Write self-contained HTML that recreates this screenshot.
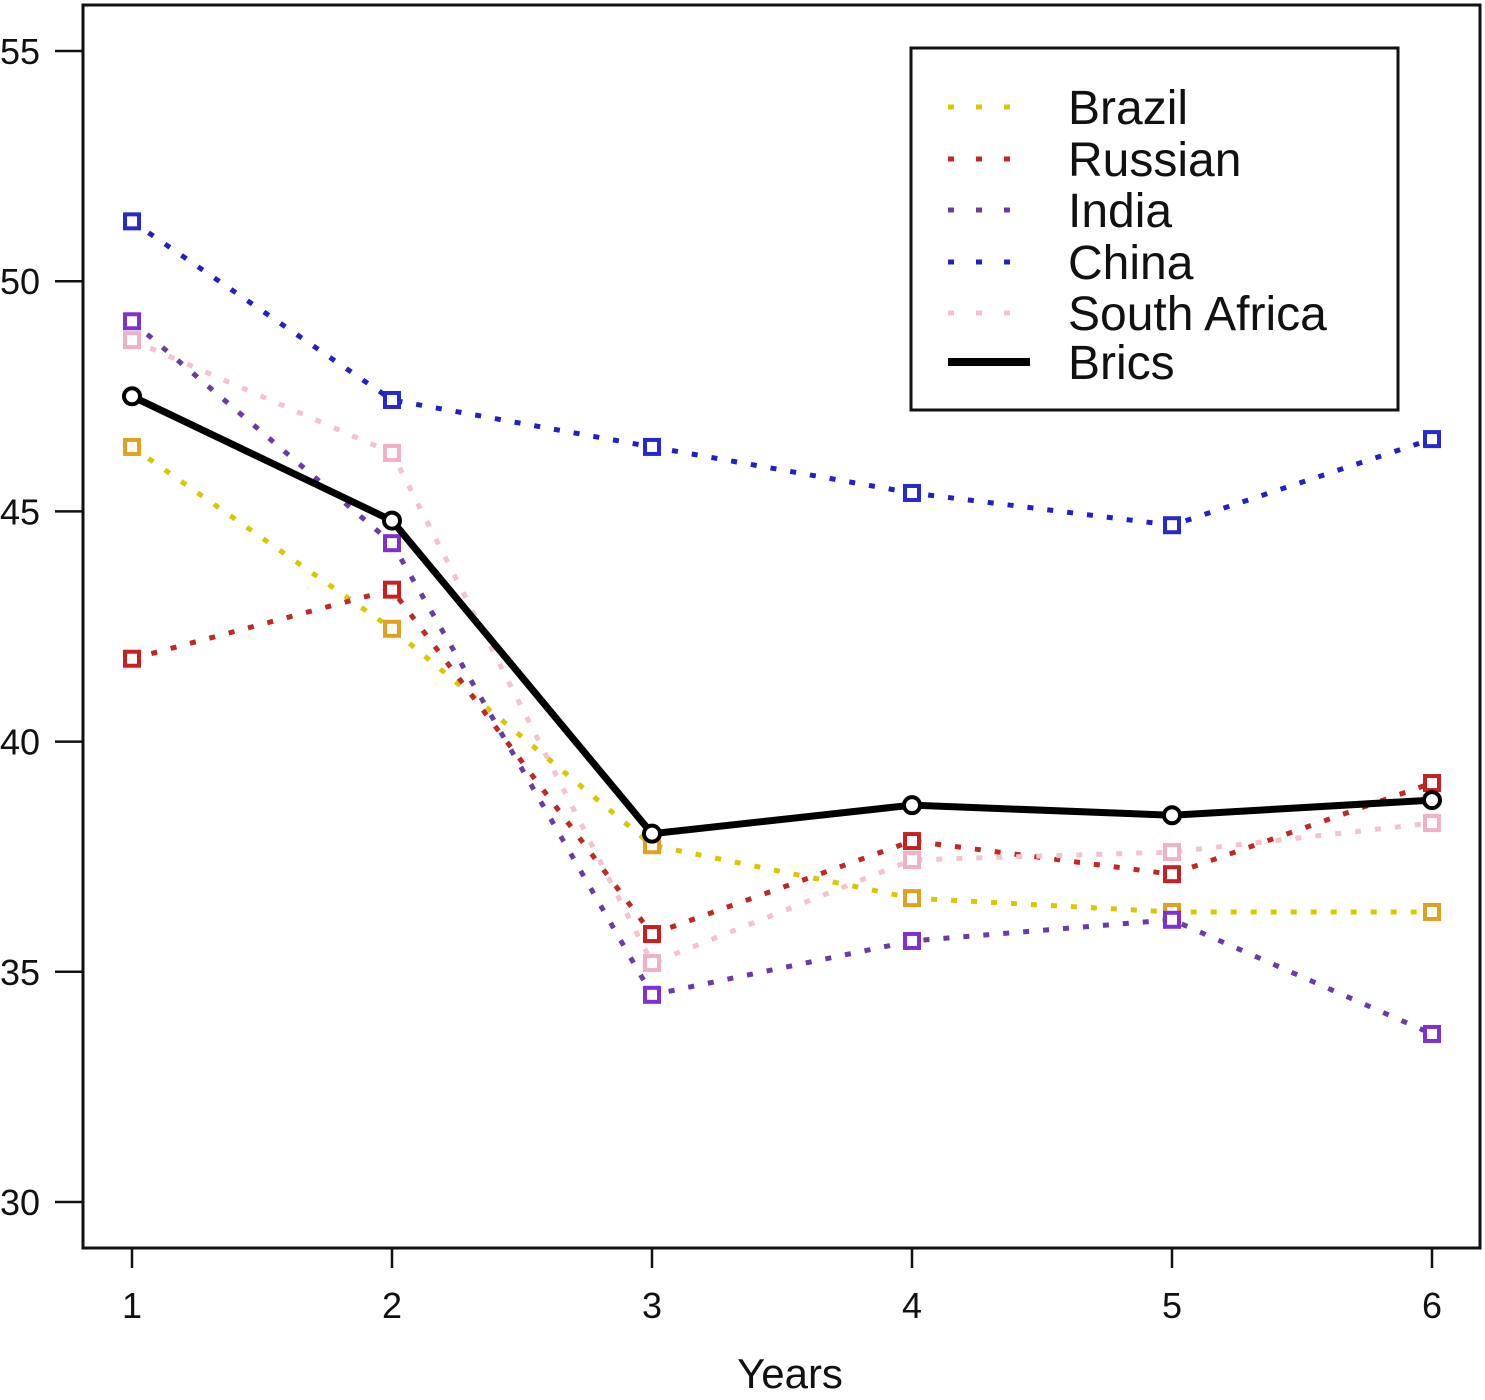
<!DOCTYPE html>
<html><head><meta charset="utf-8"><style>
body{margin:0;background:#fff}
svg{display:block;font-family:"Liberation Sans",sans-serif}
</style></head><body>
<svg id="chart" width="1485" height="1400" viewBox="0 0 1485 1400">
<rect x="83" y="5" width="1397" height="1243" fill="none" stroke="#111" stroke-width="3"/>
<g id="axes"></g>
<g id="series"></g>
<text x="790" y="1388" font-size="42" text-anchor="middle" fill="#111">Years</text>
<g>
<rect x="911" y="48" width="487" height="362" fill="#fff" stroke="#111" stroke-width="3"/>
<g id="legend-items"></g>
</g>
</svg>
<script>
const years=[1,2,3,4,5,6];
const yTicks=[30,35,40,45,50,55];
const seriesNames=["Brazil","Russian","India","China","South Africa","Brics"];
const brazil=[46.4,42.45,37.75,36.6,36.3,36.3];
const russian=[41.8,43.3,35.82,37.84,37.12,39.1];
const india=[49.13,44.31,34.5,35.67,36.13,33.65];
const china=[51.3,47.42,46.4,45.4,44.7,46.57];
const southAfrica=[48.72,46.27,35.19,37.43,37.6,38.23];
const brics=[47.5,44.8,38.0,38.62,38.4,38.73];
const NS="http://www.w3.org/2000/svg";
function X(v){return 132+(v-1)*260;}
function Y(v){return 1202-(v-30)*46.04;}
function mk(tag,attrs,parent){const e=document.createElementNS(NS,tag);for(const k in attrs)e.setAttribute(k,attrs[k]);parent.appendChild(e);return e;}
const axes=document.getElementById('axes');
yTicks.forEach(t=>{
 const l=mk('line',{x1:55,x2:83,y1:Y(t),y2:Y(t),stroke:'#111','stroke-width':2.5},axes);
 
 
 const tx=mk('text',{x:0,y:Y(t)+13,'font-size':36,fill:'#111'},axes);
 tx.textContent=t;
 
 
});
years.forEach(t=>{
 const l=mk('line',{x1:X(t),x2:X(t),y1:1248,y2:1268,stroke:'#111','stroke-width':2.5},axes);
 
 
 const tx=mk('text',{x:X(t),y:1318,'font-size':36,fill:'#111','text-anchor':'middle'},axes);
 tx.textContent=t;
 
 
});
const data=[brazil,russian,india,china,southAfrica,brics];
const lineCol=["#d8c800","#c02828","#6a3aa8","#2020c8","#f2c4cc","#000"];
const markCol=["#e0a020","#c82020","#8030d0","#2828d0","#f0b0c8","#000"];
const g=document.getElementById('series');
data.forEach((vals,i)=>{
 const pts=vals.map((v,j)=>X(years[j])+','+Y(v)).join(' ');
 const isB=i===5;
 const pl=mk('polyline',{points:pts,fill:'none',stroke:lineCol[i],'stroke-width':isB?7:5,'stroke-dasharray':isB?'none':'6 14'},g);
 
 
 vals.forEach((v,j)=>{
  let m;
  if(isB){m=mk('circle',{cx:X(years[j]),cy:Y(v),r:8,fill:'#fff',stroke:'#000','stroke-width':4},g);}
  else{m=mk('rect',{x:X(years[j])-7,y:Y(v)-7,width:14,height:14,fill:'#fff',stroke:markCol[i],'stroke-width':4},g);}
  
  
 });
});
const leg=document.getElementById('legend-items');
seriesNames.forEach((n,i)=>{
 const y=[107,159,210,262,313,362][i];
 const isB=i===5;
 const l=mk('line',{x1:948,x2:1030,y1:y,y2:y,stroke:lineCol[i],'stroke-width':isB?8:5,'stroke-dasharray':isB?'none':'6 22'},leg);
 
 
 const t=mk('text',{x:1068,y:y+17,'font-size':48,fill:'#111'},leg);
 t.textContent=n;
 
 
});
</script>
</body></html>
